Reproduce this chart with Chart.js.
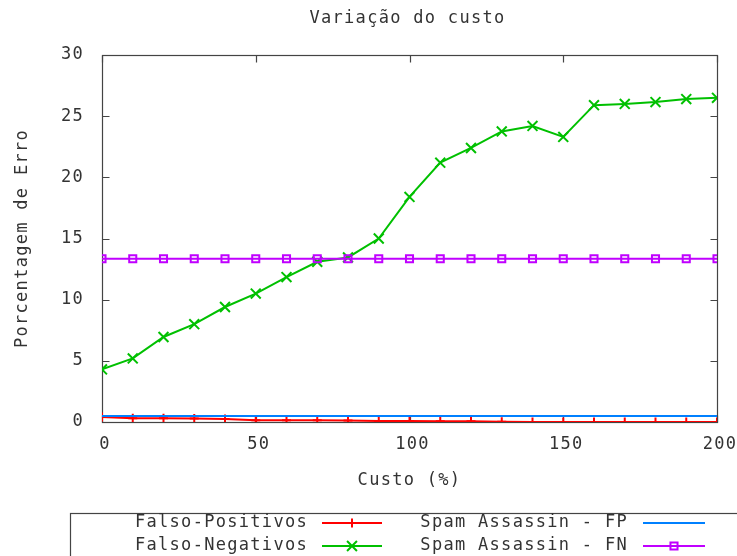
<!DOCTYPE html>
<html><head><meta charset="utf-8">
<script src="https://cdn.jsdelivr.net/npm/chart.js@4"></script>
<style>html,body{margin:0;padding:0;background:#fff}#wrap{width:737px;height:556px;overflow:hidden}</style>
</head><body><div id="wrap"><canvas id="c" width="737" height="556"></canvas></div>
<script>
// ---- data ----
const custo = [0,10,20,30,40,50,60,70,80,90,100,110,120,130,140,150,160,170,180,190,200];
const falsoPositivos = [0.4,0.3,0.3,0.28,0.25,0.15,0.15,0.14,0.13,0.08,0.08,0.07,0.06,0.02,0,0,0,0,0,0,0];
const falsoNegativos = [4.3,5.2,6.95,8.0,9.4,10.5,11.85,13.1,13.45,15.0,18.4,21.2,22.4,23.75,24.2,23.3,25.9,26.0,26.15,26.4,26.5];
const spamAssassinFP = [0.5,0.5,0.5,0.5,0.5,0.5,0.5,0.5,0.5,0.5,0.5,0.5,0.5,0.5,0.5,0.5,0.5,0.5,0.5,0.5,0.5];
const spamAssassinFN = [13.35,13.35,13.35,13.35,13.35,13.35,13.35,13.35,13.35,13.35,13.35,13.35,13.35,13.35,13.35,13.35,13.35,13.35,13.35,13.35,13.35];
const xTicks = [0,50,100,150,200];
const yTicks = [0,5,10,15,20,25,30];
const titulo = 'Variação do custo';
const xTitulo = 'Custo (%)';
const yTitulo = 'Porcentagem de Erro';
const nomes = ['Falso-Positivos','Falso-Negativos','Spam Assassin - FP','Spam Assassin - FN'];

// ---- style ----
const FONT = 'DejaVu Sans Mono';
const FS = 17;
const LS = '1.3px';
const TXT = '#333';
const FRAME = '#444';

const pts = arr => custo.map((c,i)=>({x:c,y:arr[i]}));

const datasets = [
  {label:nomes[0], data:pts(falsoPositivos), borderColor:'#ff0000', backgroundColor:'#ff0000', borderWidth:2,
   pointStyle:'cross', pointRadius:4.5, pointBorderWidth:2, order:3},
  {label:nomes[1], data:pts(falsoNegativos), borderColor:'#00c000', backgroundColor:'#00c000', borderWidth:2,
   pointStyle:'crossRot', pointRadius:7, pointBorderWidth:2, order:2},
  {label:nomes[2], data:pts(spamAssassinFP), borderColor:'#0080ff', backgroundColor:'#0080ff', borderWidth:2,
   pointRadius:0, order:1},
  {label:nomes[3], data:pts(spamAssassinFN), borderColor:'#c000ff', backgroundColor:'rgba(0,0,0,0)', borderWidth:2,
   pointStyle:'rect', pointRadius:5, pointBorderWidth:2, order:0}
];

const framePlugin = {
  id:'frame',
  beforeInit(chart){ chart.ctx.letterSpacing = LS; },
  beforeUpdate(chart){ chart.ctx.letterSpacing = LS; },
  beforeDraw(chart){ chart.ctx.letterSpacing = LS; },
  beforeDatasetsDraw(chart){
    const {ctx, chartArea:a, scales} = chart;
    ctx.save();
    ctx.strokeStyle = FRAME; ctx.lineWidth = 1.2;
    const L=Math.round(a.left)+0.5, R=Math.round(a.right)+0.5, T=Math.round(a.top)+0.5, B=Math.round(a.bottom)+0.5;
    ctx.strokeRect(L, T, R-L, B-T);
    ctx.beginPath();
    const tl = 7;
    yTicks.forEach(v=>{
      const y = Math.round(scales.y.getPixelForValue(v))+0.5;
      ctx.moveTo(L,y); ctx.lineTo(L+tl,y);
      ctx.moveTo(R,y); ctx.lineTo(R-tl,y);
    });
    xTicks.forEach(v=>{
      const x = Math.round(scales.x.getPixelForValue(v))+0.5;
      ctx.moveTo(x,B); ctx.lineTo(x,B-tl);
      ctx.moveTo(x,T); ctx.lineTo(x,T+tl);
    });
    ctx.stroke();
    ctx.restore();
  },
  afterDraw(chart){
    const {ctx, chartArea:a} = chart;
    ctx.save();
    ctx.letterSpacing = LS;
    ctx.font = FS+'px "'+FONT+'"';
    ctx.fillStyle = TXT;
    ctx.textBaseline = 'middle';
    ctx.textAlign = 'center';
    ctx.fillText(titulo, (a.left+a.right)/2 - 2, 19);
    // legend box
    ctx.strokeStyle = FRAME; ctx.lineWidth = 1.2;
    ctx.strokeRect(70.5, 513.5, 700, 80);
    const rows = [523, 546];
    const entries = [
      {ds:0, tx:308, x1:322, x2:382, y:rows[0]},
      {ds:1, tx:308, x1:322, x2:382, y:rows[1]},
      {ds:2, tx:628, x1:643, x2:705, y:rows[0]},
      {ds:3, tx:628, x1:643, x2:705, y:rows[1]}
    ];
    entries.forEach(e=>{
      const d = chart.data.datasets[e.ds];
      ctx.fillStyle = TXT; ctx.textAlign='right';
      ctx.fillText(d.label, e.tx, e.y);
      ctx.strokeStyle = d.borderColor; ctx.lineWidth = 2;
      ctx.beginPath(); ctx.moveTo(e.x1,e.y); ctx.lineTo(e.x2,e.y); ctx.stroke();
      if (d.pointRadius>0){
        ctx.fillStyle = d.backgroundColor;
        ctx.lineWidth = d.pointBorderWidth;
        Chart.helpers.drawPoint(ctx, {pointStyle:d.pointStyle, radius:d.pointRadius, rotation:0, borderWidth:d.pointBorderWidth}, (e.x1+e.x2)/2, e.y);
      }
    });
    ctx.restore();
  }
};

new Chart(document.getElementById('c'), {
  type:'line',
  data:{datasets},
  plugins:[framePlugin],
  options:{
    responsive:false, animation:false, devicePixelRatio:1,
    layout:{padding:{top:55,right:20,left:0,bottom:0}},
    plugins:{legend:{display:false}, title:{display:false}, tooltip:{enabled:false}},
    elements:{line:{tension:0}},
    scales:{
      x:{type:'linear', min:0, max:200,
        afterBuildTicks:s=>{s.ticks = xTicks.map(v=>({value:v}));},
        afterFit:s=>{s.height = 134; s.paddingLeft = 0; s.paddingRight = 0;},
        grid:{display:false, drawTicks:false}, border:{display:false},
        ticks:{font:{family:FONT,size:FS}, color:TXT, padding:12, labelOffset:3, maxRotation:0, autoSkip:false},
        title:{display:true, text:xTitulo, font:{family:FONT,size:FS}, color:TXT, padding:{top:0,bottom:65}}
      },
      y:{type:'linear', min:0, max:30,
        afterBuildTicks:s=>{s.ticks = yTicks.map(v=>({value:v}));},
        afterFit:s=>{s.width = 102; s.paddingTop = 0; s.paddingBottom = 0;},
        grid:{display:false, drawTicks:false}, border:{display:false},
        ticks:{font:{family:FONT,size:FS}, color:TXT, padding:18, autoSkip:false},
        title:{display:true, text:yTitulo, font:{family:FONT,size:FS}, color:TXT, padding:{top:12,bottom:0}}
      }
    }
  }
});
</script>
</body></html>
